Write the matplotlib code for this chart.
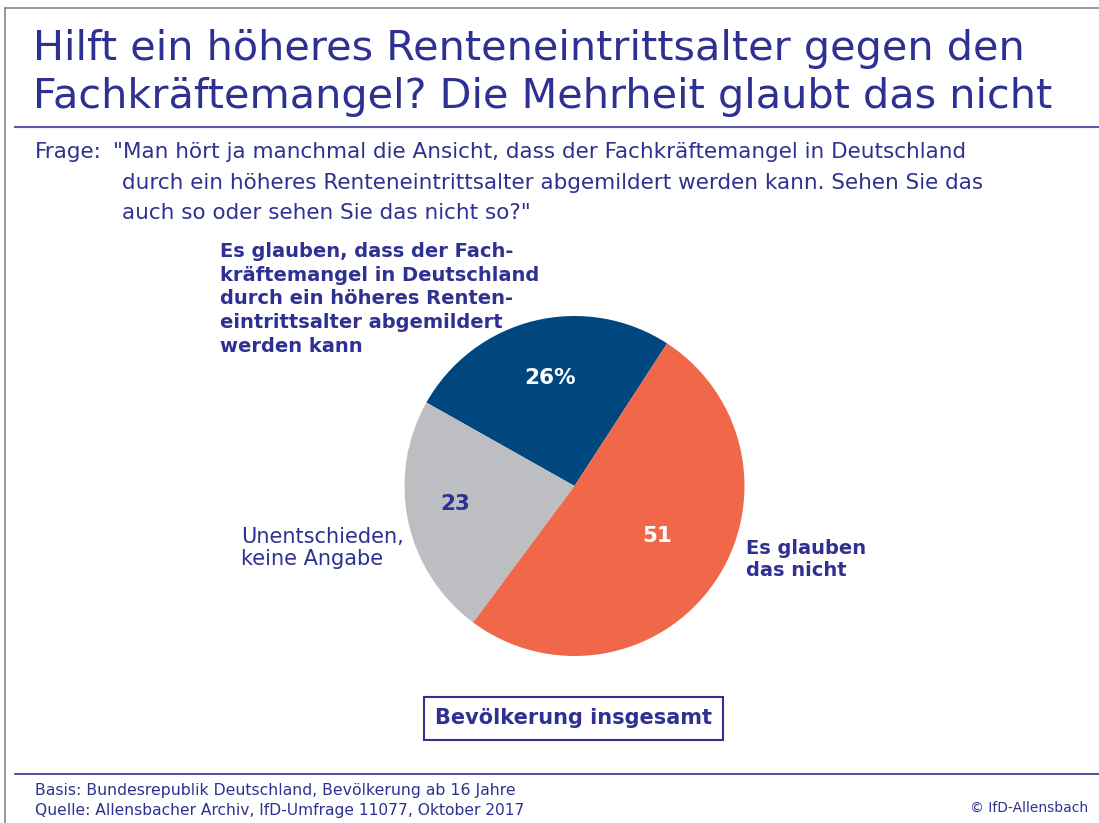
import matplotlib
matplotlib.use("Agg")
import matplotlib.pyplot as plt
from matplotlib.patches import Rectangle
from matplotlib.lines import Line2D
import numpy as np

# Data
categories = ["Es glauben, dass abgemildert", "Unentschieden, keine Angabe", "Es glauben das nicht"]
values = [26, 23, 51]
value_labels = ["26%", "23", "51"]
colors = ["#00477F", "#BDBEC1", "#F0674A"]
label_text_colors = ["white", "#2E3192", "white"]

NAVY = "#2E3192"
FONT = "DejaVu Sans"

W, H = 1099, 823
fig = plt.figure(figsize=(W / 100, H / 100), dpi=100)
fig.patch.set_facecolor("white")

def fx(x):
    return x / W

def fy(y):
    return 1 - y / H

# frame lines (left and top)
fig.add_artist(Line2D([fx(5), fx(5)], [fy(8), fy(823)], color="#888888", lw=1.2))
fig.add_artist(Line2D([fx(5), fx(1099)], [fy(8), fy(8)], color="#888888", lw=1.2))

# Title
fig.text(fx(33), fy(49), "Hilft ein höheres Renteneintrittsalter gegen den",
         fontsize=29.8, color=NAVY, family=FONT, va="center", ha="left")
fig.text(fx(33), fy(97), "Fachkräftemangel? Die Mehrheit glaubt das nicht",
         fontsize=29.8, color=NAVY, family=FONT, va="center", ha="left")
fig.add_artist(Line2D([fx(15), fx(1099)], [fy(127), fy(127)], color="#5A5AA8", lw=1.5))

# Question
qfs = 15.5
fig.text(fx(35), fy(152), "Frage:", fontsize=qfs, color=NAVY, family=FONT, va="center")
fig.text(fx(113), fy(152), "\"Man hört ja manchmal die Ansicht, dass der Fachkräftemangel in Deutschland",
         fontsize=qfs, color=NAVY, family=FONT, va="center")
fig.text(fx(122), fy(183), "durch ein höheres Renteneintrittsalter abgemildert werden kann. Sehen Sie das",
         fontsize=qfs, color=NAVY, family=FONT, va="center")
fig.text(fx(122), fy(213), "auch so oder sehen Sie das nicht so?\"",
         fontsize=qfs, color=NAVY, family=FONT, va="center")

# Pie
cx, cy, r = 574.5, 486, 170
ax = fig.add_axes([fx(cx - r), 1 - (cy + r) / H, 2 * r / W, 2 * r / H])
wedges, _ = ax.pie(values, colors=colors, startangle=57, counterclock=True,
                   radius=1, wedgeprops=dict(linewidth=0))
ax.set_xlim(-1, 1)
ax.set_ylim(-1, 1)
ax.set_aspect("equal")
ax.axis("off")

dists = [0.65, 0.71, 0.57]
angle_shift = [-1.0, -3.4, 3.8]
start = 57.0
total = sum(values)
for v, lab, tc, d, sh in zip(values, value_labels, label_text_colors, dists, angle_shift):
    mid = np.deg2rad(start + v / total * 360 / 2 + sh)
    start += v / total * 360
    ax.text(d * np.cos(mid), d * np.sin(mid), lab, color=tc, fontsize=15.5,
            fontweight="bold", family=FONT, ha="center", va="center")

# Category labels
fig.text(fx(220), fy(299), "Es glauben, dass der Fach-\nkräftemangel in Deutschland\ndurch ein höheres Renten-\neintrittsalter abgemildert\nwerden kann",
         fontsize=14, fontweight="bold", color=NAVY, family=FONT, va="center", ha="left",
         linespacing=1.32)
fig.text(fx(241), fy(548), "Unentschieden,\nkeine Angabe", fontsize=15, color=NAVY,
         family=FONT, va="center", ha="left", linespacing=1.1)
fig.text(fx(746), fy(560), "Es glauben\ndas nicht", fontsize=14, fontweight="bold", color=NAVY,
         family=FONT, va="center", ha="left", linespacing=1.2)

# Box
fig.add_artist(Rectangle((fx(424), fy(740)), fx(723 - 424), (740 - 697) / H,
                         fill=False, edgecolor=NAVY, lw=1.5))
fig.text(fx(573.5), fy(718), "Bevölkerung insgesamt", fontsize=15, fontweight="bold",
         color=NAVY, family=FONT, ha="center", va="center")

# Footer
fig.add_artist(Line2D([fx(15), fx(1099)], [fy(774), fy(774)], color="#2E3192", lw=1.2))
fig.text(fx(35), fy(791), "Basis: Bundesrepublik Deutschland, Bevölkerung ab 16 Jahre",
         fontsize=11.3, color=NAVY, family=FONT, va="center")
fig.text(fx(35), fy(810), "Quelle: Allensbacher Archiv, IfD-Umfrage 11077, Oktober 2017",
         fontsize=11.2, color=NAVY, family=FONT, va="center")
fig.text(fx(1088), fy(808), "© IfD-Allensbach", fontsize=10, color=NAVY, family=FONT,
         va="center", ha="right")

fig.savefig("out.png", dpi=100)
